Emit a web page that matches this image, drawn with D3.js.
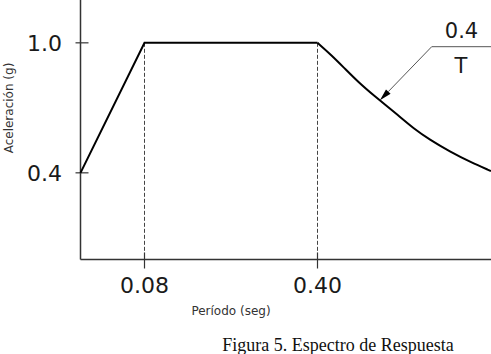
<!DOCTYPE html>
<html>
<head>
<meta charset="utf-8">
<script src="https://cdn.jsdelivr.net/npm/d3@7"></script>
<style>
  html, body { margin: 0; padding: 0; background: #fff; }
  svg { display: block; }
</style>
</head>
<body>
<svg id="chart" width="491" height="354"></svg>
<script>
// ---- data (schematic response spectrum) ----
const rampPeriods = [0, 0.08, 0.40];
const rampAccel   = [0.4, 1.0, 1.0];
const decayPeriods = [0.40, 0.450, 0.496, 0.542, 0.588, 0.685, 0.731, 0.789, 0.858, 0.927, 1.0];
const decayAccel   = [1.0, 0.941, 0.879, 0.818, 0.764, 0.659, 0.606, 0.552, 0.498, 0.451, 0.408];
const xTickValues = [0.08, 0.40];
const xTickLabels = ["0.08", "0.40"];
const yTickValues = [0.4, 1.0];
const yTickLabels = ["0.4", "1.0"];
const dashedPeriods = [0.08, 0.40];
const xTitle = "Período (seg)";
const yTitle = "Aceleración (g)";
const caption = "Figura 5. Espectro de Respuesta";
const annotTop = "0.4";
const annotBottom = "T";
const annotPeriod = 0.616, annotAccel = 0.735;

const svg = d3.select("#chart");
const x = d3.scaleLinear().domain([0, 0.08, 0.40, 1.0]).range([80.5, 144.5, 317.5, 491]);
const y = d3.scaleLinear().domain([0, 1.2]).range([259.5, -0.5]);

const axisColor = "#333";
const textColor = "#1a1a1a";
const sans = "'DejaVu Sans', Verdana, sans-serif";

// dashed verticals
svg.selectAll("line.dash").data(dashedPeriods).enter().append("line")
  .attr("x1", d => x(d)).attr("x2", d => x(d))
  .attr("y1", y(1.0)).attr("y2", y(0))
  .attr("stroke", "#444").attr("stroke-width", 1)
  .attr("stroke-dasharray", "4,2");

// axes lines
svg.append("line").attr("x1", x(0)).attr("x2", x(0)).attr("y1", y(1.2)).attr("y2", y(0))
  .attr("stroke", axisColor).attr("stroke-width", 1.5);
svg.append("line").attr("x1", x(0)).attr("x2", x(1.0)).attr("y1", y(0)).attr("y2", y(0))
  .attr("stroke", axisColor).attr("stroke-width", 1.5);

// y ticks (cross style)
svg.selectAll("line.yt").data(yTickValues).enter().append("line")
  .attr("x1", x(0) - 5).attr("x2", x(0) + 8)
  .attr("y1", d => y(d)).attr("y2", d => y(d))
  .attr("stroke", axisColor).attr("stroke-width", 1.2);
svg.selectAll("text.yl").data(yTickValues).enter().append("text")
  .attr("x", 62).attr("y", d => y(d))
  .attr("dy", "0.36em")
  .attr("text-anchor", "end")
  .attr("font-family", sans).attr("font-size", 22).attr("fill", textColor)
  .text((d, i) => yTickLabels[i]);

// x ticks
svg.selectAll("line.xt").data(xTickValues).enter().append("line")
  .attr("x1", d => x(d)).attr("x2", d => x(d))
  .attr("y1", y(0) - 7).attr("y2", y(0) + 9)
  .attr("stroke", axisColor).attr("stroke-width", 1.2);
svg.selectAll("text.xl").data(xTickValues).enter().append("text")
  .attr("x", d => x(d)).attr("y", 293)
  .attr("text-anchor", "middle")
  .attr("font-family", sans).attr("font-size", 22).attr("fill", textColor)
  .text((d, i) => xTickLabels[i]);

// spectrum lines
const line = d3.line().x(d => x(d[0])).y(d => y(d[1]));
svg.append("path")
  .datum(rampPeriods.map((p, i) => [p, rampAccel[i]]))
  .attr("d", line)
  .attr("fill", "none").attr("stroke", "#000").attr("stroke-width", 2)
  .attr("stroke-linejoin", "miter");
svg.append("path")
  .datum(decayPeriods.map((p, i) => [p, decayAccel[i]]))
  .attr("d", line.curve(d3.curveBasis))
  .attr("fill", "none").attr("stroke", "#000").attr("stroke-width", 2);

// annotation
const tipX = x(annotPeriod), tipY = y(annotAccel);
const elbowX = 431.7, elbowY = 46.7;
svg.append("line").attr("x1", elbowX).attr("y1", elbowY).attr("x2", x(1.0)).attr("y2", elbowY)
  .attr("stroke", "#555").attr("stroke-width", 1);
const ang = Math.atan2(tipY - elbowY, tipX - elbowX);
const aLen = 12, aW = 3.2;
const bx = tipX - aLen * Math.cos(ang), by = tipY - aLen * Math.sin(ang);
svg.append("line").attr("x1", elbowX).attr("y1", elbowY).attr("x2", bx).attr("y2", by)
  .attr("stroke", "#555").attr("stroke-width", 1);
svg.append("path")
  .attr("d", `M${tipX},${tipY} L${bx + aW * Math.sin(ang)},${by - aW * Math.cos(ang)} L${bx - aW * Math.sin(ang)},${by + aW * Math.cos(ang)} Z`)
  .attr("fill", "#000");
svg.append("text").attr("x", 461.5).attr("y", 38).attr("text-anchor", "middle")
  .attr("font-family", sans).attr("font-size", 21).attr("fill", textColor).text(annotTop);
svg.append("text").attr("x", 461).attr("y", 73).attr("text-anchor", "middle")
  .attr("font-family", sans).attr("font-size", 21).attr("fill", textColor).text(annotBottom);

// axis titles
svg.append("text").attr("x", 231).attr("y", 315).attr("text-anchor", "middle")
  .attr("font-family", sans).attr("font-size", 12).attr("fill", "#333").text(xTitle);
svg.append("text").attr("transform", "translate(13,108) rotate(-90)").attr("text-anchor", "middle")
  .attr("font-family", sans).attr("font-size", 12).attr("fill", "#333").text(yTitle);

// caption
svg.append("text").attr("x", 338).attr("y", 350.5).attr("text-anchor", "middle")
  .attr("font-family", "'Liberation Serif', 'Times New Roman', serif").attr("font-size", 18)
  .attr("fill", "#111").text(caption);
</script>
</body>
</html>
